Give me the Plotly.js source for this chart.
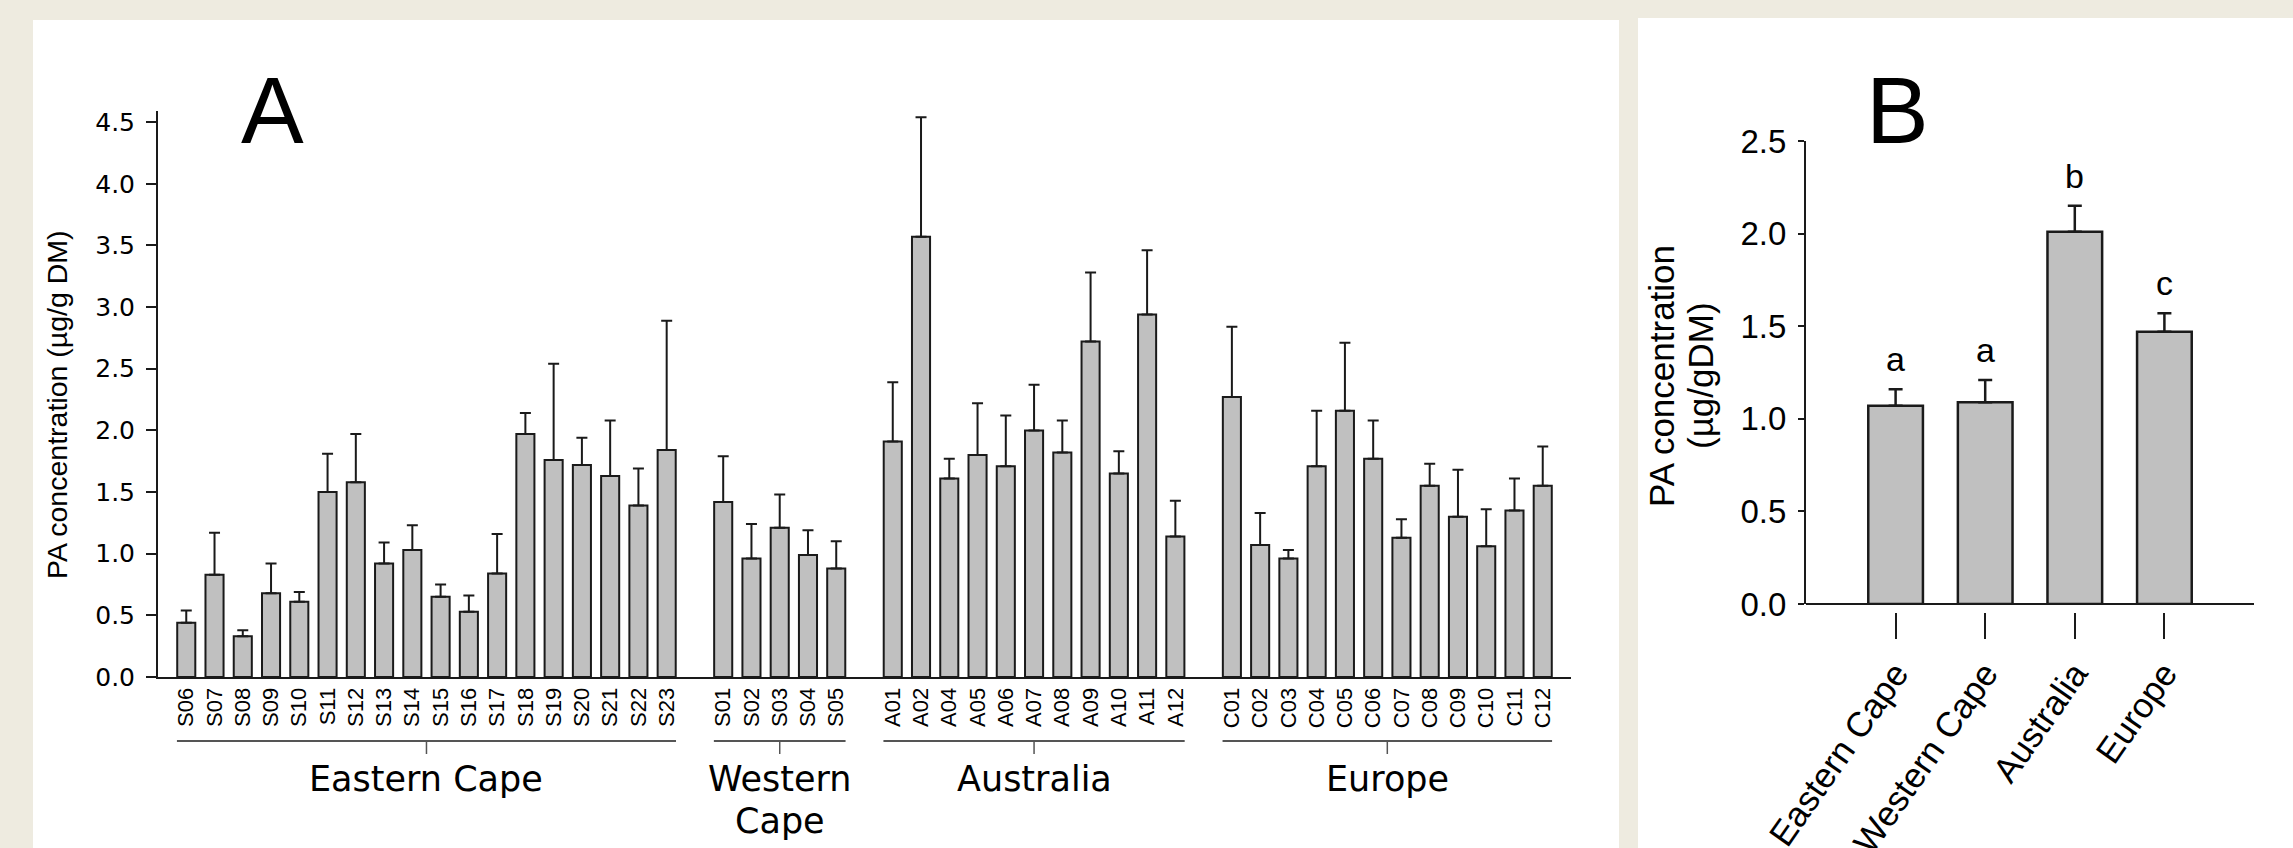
<!DOCTYPE html>
<html>
<head>
<meta charset="utf-8">
<script src="https://cdn.plot.ly/plotly-3.0.1.min.js"></script>
<style>
  html, body { margin: 0; padding: 0; background: #EEEBE0; }
  #chart { width: 2293px; height: 848px; }
</style>
</head>
<body>
<div id="chart"></div>
<script>
// ---------- Panel A data ----------
const ecNames = ['S06','S07','S08','S09','S10','S11','S12','S13','S14','S15','S16','S17','S18','S19','S20','S21','S22','S23'];
const ecMeans = [0.44,0.83,0.33,0.68,0.61,1.50,1.58,0.92,1.03,0.65,0.53,0.84,1.97,1.76,1.72,1.63,1.39,1.84];
const ecErr   = [0.10,0.34,0.05,0.24,0.08,0.31,0.39,0.17,0.20,0.10,0.13,0.32,0.17,0.78,0.22,0.45,0.30,1.05];

const wcNames = ['S01','S02','S03','S04','S05'];
const wcMeans = [1.42,0.96,1.21,0.99,0.88];
const wcErr   = [0.37,0.28,0.27,0.20,0.22];

const auNames = ['A01','A02','A04','A05','A06','A07','A08','A09','A10','A11','A12'];
const auMeans = [1.91,3.57,1.61,1.80,1.71,2.00,1.82,2.72,1.65,2.94,1.14];
const auErr   = [0.48,0.97,0.16,0.42,0.41,0.37,0.26,0.56,0.18,0.52,0.29];

const euNames = ['C01','C02','C03','C04','C05','C06','C07','C08','C09','C10','C11','C12'];
const euMeans = [2.27,1.07,0.96,1.71,2.16,1.77,1.13,1.55,1.30,1.06,1.35,1.55];
const euErr   = [0.57,0.26,0.07,0.45,0.55,0.31,0.15,0.18,0.38,0.30,0.26,0.32];

const groupLabels = ['Eastern Cape', 'Western<br>Cape', 'Australia', 'Europe'];

// ---------- Panel B data ----------
const regions     = ['Eastern Cape', 'Western Cape', 'Australia', 'Europe'];
const regionMeans = [1.07, 1.09, 2.01, 1.47];
const regionErr   = [0.09, 0.12, 0.14, 0.10];
const letters     = ['a', 'a', 'b', 'c'];

// ---------- helpers ----------
const W = 2293, H = 848;
const px = x => x / W;
const py = y => 1 - y / H;
const FONT = '"Liberation Sans", Arial, Helvetica, sans-serif';
const WIDE = '"DejaVu Sans", "Liberation Sans", Arial, sans-serif';
const INK = '#1a1a1a';

// build the combined category list for panel A (one empty slot between groups)
const groups = [
  {names: ecNames, means: ecMeans, err: ecErr},
  {names: wcNames, means: wcMeans, err: wcErr},
  {names: auNames, means: auMeans, err: auErr},
  {names: euNames, means: euMeans, err: euErr}
];
const allX = [], allY = [], allE = [], realNames = [], spans = [];
groups.forEach((g, gi) => {
  if (gi > 0) { allX.push('gap' + gi); allY.push(null); allE.push(null); }
  const start = allX.length;
  g.names.forEach((n, i) => {
    allX.push(n); allY.push(g.means[i]); allE.push(g.err[i]); realNames.push(n);
  });
  spans.push([start, allX.length - 1]);
});

const traces = [
  {
    type: 'bar', x: allX, y: allY, xaxis: 'x', yaxis: 'y',
    width: 0.64,
    marker: {color: '#C0C0C0', line: {color: INK, width: 2}},
    error_y: {type: 'data', symmetric: false, array: allE, arrayminus: allE.map(v => v === null ? null : 0),
              color: INK, thickness: 2, width: 5.5},
    hoverinfo: 'skip'
  },
  {
    type: 'bar', x: regions, y: regionMeans, xaxis: 'x2', yaxis: 'y2',
    width: 0.61,
    marker: {color: '#C0C0C0', line: {color: INK, width: 2.5}},
    error_y: {type: 'data', symmetric: false, array: regionErr, arrayminus: regionErr.map(() => 0),
              color: INK, thickness: 2.5, width: 7},
    hoverinfo: 'skip'
  }
];

const shapes = [
  // white panels
  {type: 'rect', xref: 'paper', yref: 'paper', x0: px(33), x1: px(1619), y0: py(848), y1: py(20),
   fillcolor: '#FFFFFF', line: {width: 0}, layer: 'below'},
  {type: 'rect', xref: 'paper', yref: 'paper', x0: px(1638), x1: px(2293), y0: py(848), y1: py(18),
   fillcolor: '#FFFFFF', line: {width: 0}, layer: 'below'},
  // panel B baseline
  {type: 'line', xref: 'x2 domain', yref: 'paper', x0: 0, x1: 1, y0: py(604), y1: py(604),
   line: {color: INK, width: 2}}
];

const annotations = [
  {text: 'A', xref: 'paper', yref: 'paper', x: px(272), y: py(110), xanchor: 'center', yanchor: 'middle',
   showarrow: false, font: {family: FONT, size: 94, color: '#000'}},
  {text: 'B', xref: 'paper', yref: 'paper', x: px(1897), y: py(110), xanchor: 'center', yanchor: 'middle',
   showarrow: false, font: {family: FONT, size: 94, color: '#000'}},
  {text: 'PA concentration (µg/g DM)', xref: 'paper', yref: 'paper', x: px(57), y: py(405),
   xanchor: 'center', yanchor: 'middle', textangle: -90, showarrow: false,
   font: {family: FONT, size: 28.5, color: '#000'}},
  {text: 'PA concentration', xref: 'paper', yref: 'paper', x: px(1661), y: py(376),
   xanchor: 'center', yanchor: 'middle', textangle: -90, showarrow: false,
   font: {family: FONT, size: 35, color: '#000'}},
  {text: '(µg/gDM)', xref: 'paper', yref: 'paper', x: px(1700), y: py(376),
   xanchor: 'center', yanchor: 'middle', textangle: -90, showarrow: false,
   font: {family: FONT, size: 35, color: '#000'}}
];

// group brackets + labels for panel A
spans.forEach(([s, e], gi) => {
  const mid = (s + e) / 2;
  shapes.push({type: 'line', xref: 'x', yref: 'paper', x0: s - 0.33, x1: e + 0.33, y0: py(741), y1: py(741),
               line: {color: '#555', width: 2}});
  shapes.push({type: 'line', xref: 'x', yref: 'paper', x0: mid, x1: mid, y0: py(741), y1: py(754),
               line: {color: '#555', width: 1.5}});
  groupLabels[gi].split('<br>').forEach((line, li) => {
    annotations.push({text: line, xref: 'x', yref: 'paper', x: mid, y: py(779 + li * 42),
                      xanchor: 'center', yanchor: 'middle', showarrow: false,
                      font: {family: WIDE, size: 35, color: '#000'}});
  });
});

// significance letters for panel B
regions.forEach((r, i) => {
  annotations.push({text: letters[i], xref: 'x2', yref: 'y2', x: r, y: regionMeans[i] + regionErr[i],
                    xanchor: 'center', yanchor: 'bottom', yshift: 9, showarrow: false,
                    font: {family: FONT, size: 34, color: '#000'}});
});

const layout = {
  width: W, height: H,
  margin: {l: 0, r: 0, t: 0, b: 0, pad: 0},
  paper_bgcolor: '#EEEBE0',
  plot_bgcolor: 'rgba(0,0,0,0)',
  showlegend: false,
  font: {family: FONT, color: '#000'},
  bargap: 0,
  xaxis: {
    domain: [px(158), px(1571)], anchor: 'y',
    type: 'category', categoryorder: 'array', categoryarray: allX,
    range: [-1, 49],
    showline: true, linecolor: INK, linewidth: 2,
    ticks: '', tickmode: 'array', tickvals: realNames, ticktext: realNames,
    tickangle: -90, tickfont: {family: FONT, size: 22, color: '#000'},
    showgrid: false, zeroline: false, fixedrange: true
  },
  yaxis: {
    domain: [py(677), py(111)], anchor: 'x',
    range: [0, 4.59],
    showline: true, linecolor: INK, linewidth: 2,
    ticks: 'outside', ticklen: 10, tickwidth: 2, tickcolor: INK,
    tick0: 0, dtick: 0.5, tickformat: '.1f',
    ticklabelstandoff: 6,
    tickfont: {family: WIDE, size: 25, color: '#000'},
    showgrid: false, zeroline: false, fixedrange: true
  },
  xaxis2: {
    domain: [px(1806), px(2254)], anchor: 'free', position: py(612),
    type: 'category', range: [-1, 4],
    showline: false,
    ticks: 'outside', ticklen: 26, tickwidth: 2, tickcolor: INK,
    tickangle: -55, tickfont: {family: FONT, size: 35, color: '#000'},
    showgrid: false, zeroline: false, fixedrange: true
  },
  yaxis2: {
    domain: [py(604), py(141)], anchor: 'x2',
    range: [0, 2.5],
    showline: true, linecolor: INK, linewidth: 2,
    ticks: 'outside', ticklen: 6, tickwidth: 2, tickcolor: INK,
    tick0: 0, dtick: 0.5, tickformat: '.1f',
    ticklabelstandoff: 5,
    tickfont: {family: FONT, size: 33, color: '#000'},
    showgrid: false, zeroline: false, fixedrange: true
  },
  shapes: shapes,
  annotations: annotations
};

Plotly.newPlot('chart', traces, layout, {displayModeBar: false, staticPlot: true});
</script>
</body>
</html>
